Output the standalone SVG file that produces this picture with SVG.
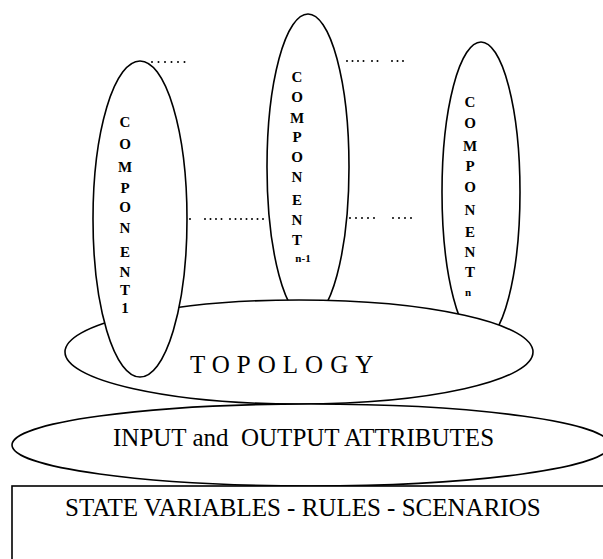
<svg xmlns="http://www.w3.org/2000/svg" width="603" height="559" viewBox="0 0 603 559">
<style>
.sh{fill:#fff;stroke:#000;stroke-width:1.6}
.dot{stroke:#000;stroke-width:2;stroke-linecap:round;fill:none}
.cl{font-family:"Liberation Serif","Times New Roman",serif;font-weight:bold;font-size:15px;text-anchor:middle;fill:#000}
.sub{font-family:"Liberation Serif","Times New Roman",serif;font-weight:bold;font-size:11px;text-anchor:middle;fill:#000}
.big{font-family:"Liberation Serif","Times New Roman",serif;font-size:25px;fill:#000}
</style>
<rect width="603" height="559" fill="#fff"/>
<g id="connectors">
<path class="dot" d="M152 62H185" stroke-dasharray="0 6.5"/>
<path class="dot" d="M347 61H364M372 61H380M392 61H404" stroke-dasharray="0 5.5"/>
<path class="dot" d="M190 219H192M205 219H223M230 219H265" stroke-dasharray="0 5.5"/>
<path class="dot" d="M350 218H377M393 218H412" stroke-dasharray="0 6"/>
</g>
<g id="component-n-1">
<ellipse class="sh" cx="308" cy="167" rx="41" ry="153"/>
<text class="cl" x="297" y="82">C</text>
<text class="cl" x="297" y="102">O</text>
<text class="cl" x="297" y="123">M</text>
<text class="cl" x="297" y="142">P</text>
<text class="cl" x="297" y="162">O</text>
<text class="cl" x="297" y="182">N</text>
<text class="cl" x="297" y="205">E</text>
<text class="cl" x="297" y="225">N</text>
<text class="cl" x="297" y="245">T</text>
<text class="sub" x="303" y="262">n-1</text>
</g>
<g id="component-n">
<ellipse class="sh" cx="481" cy="192" rx="39" ry="150"/>
<text class="cl" x="470" y="107">C</text>
<text class="cl" x="470" y="128">O</text>
<text class="cl" x="470" y="151">M</text>
<text class="cl" x="470" y="171">P</text>
<text class="cl" x="470" y="192">O</text>
<text class="cl" x="470" y="215">N</text>
<text class="cl" x="470" y="237">E</text>
<text class="cl" x="470" y="257">N</text>
<text class="cl" x="470" y="277">T</text>
<text class="sub" x="468" y="296">n</text>
</g>
<g id="topology">
<ellipse class="sh" cx="299" cy="352" rx="234" ry="52"/>
<text class="big" x="190" y="373" font-size="24" letter-spacing="7">TOPOLOGY</text>
</g>
<g id="component-1">
<ellipse class="sh" cx="140" cy="219" rx="47" ry="158"/>
<text class="cl" x="125" y="127">C</text>
<text class="cl" x="125" y="149">O</text>
<text class="cl" x="125" y="172">M</text>
<text class="cl" x="125" y="193">P</text>
<text class="cl" x="125" y="212">O</text>
<text class="cl" x="125" y="233">N</text>
<text class="cl" x="125" y="257">E</text>
<text class="cl" x="125" y="277">N</text>
<text class="cl" x="125" y="295">T</text>
<text class="cl" x="125" y="313">1</text>
</g>
<g id="io-attributes">
<ellipse class="sh" cx="311" cy="445" rx="299" ry="41"/>
<text class="big" x="113" y="446" xml:space="preserve">INPUT and  OUTPUT ATTRIBUTES</text>
</g>
<g id="state-box">
<rect class="sh" x="12" y="486" width="600" height="90"/>
<text class="big" x="65" y="516">STATE VARIABLES - RULES - SCENARIOS</text>
</g>
</svg>
